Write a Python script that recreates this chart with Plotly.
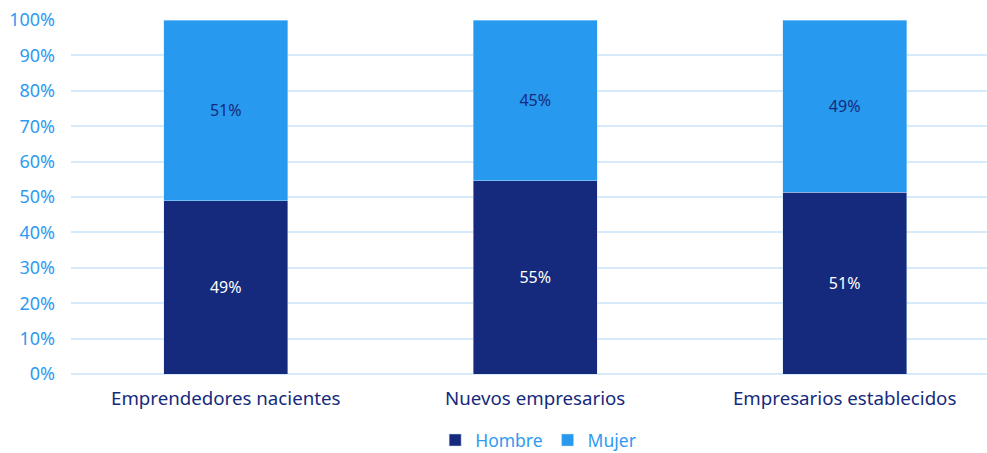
import plotly.graph_objects as go

categories = ["Emprendedores nacientes", "Nuevos empresarios", "Empresarios establecidos"]
hombre = [48.9, 54.6, 51.3]
mujer = [51.1, 45.4, 48.7]
hombre_labels = ["49%", "55%", "51%"]
mujer_labels = ["51%", "45%", "49%"]

FONT = "Noto Sans"
NAVY = "#152A7C"
BLUE = "#2799EE"
TICK = "#2E9BF0"

fig = go.Figure()
fig.add_trace(go.Bar(
    name="Hombre", x=categories, y=hombre, text=hombre_labels,
    textposition="inside", insidetextanchor="middle",
    textfont=dict(color="white", size=16, family=FONT),
    marker=dict(color=NAVY, line=dict(color="rgba(200,225,250,0.8)", width=0.6)),
    width=0.4, hoverinfo="skip",
))
fig.add_trace(go.Bar(
    name="Mujer", x=categories, y=mujer, text=mujer_labels,
    textposition="inside", insidetextanchor="middle",
    textfont=dict(color=NAVY, size=16, family=FONT),
    marker=dict(color=BLUE, line=dict(color="rgba(200,225,250,0.8)", width=0.6)),
    width=0.4, hoverinfo="skip",
))
fig.update_layout(
    barmode="stack",
    width=987, height=453,
    margin=dict(l=71, r=0, t=20, b=79, autoexpand=False),
    plot_bgcolor="white", paper_bgcolor="white",
    font=dict(family=FONT),
    legend=dict(orientation="h", x=0.51, xanchor="center", y=-0.136, yanchor="top",
                font=dict(color=TICK, size=17.5, family=FONT), traceorder="normal",
                itemwidth=30, tracegroupgap=0),
)
fig.update_xaxes(
    range=[-0.5, 2.46], showgrid=False, showline=False, zeroline=False,
    tickfont=dict(color=NAVY, size=18.7, family=FONT), ticks="", ticklabelstandoff=11,
)
fig.update_yaxes(
    range=[0, 100], dtick=10, ticksuffix="%", showgrid=True,
    gridcolor="#D6EAFB", gridwidth=1.5, zeroline=True, zerolinecolor="#D6EAFB", zerolinewidth=1.5,
    tickfont=dict(color=TICK, size=18, family=FONT), ticklabelstandoff=15,
)
fig.write_html(
    "out.html",
    config={"displayModeBar": False},
    post_script="document.body.style.margin='0';document.body.style.overflow='hidden';",
)
